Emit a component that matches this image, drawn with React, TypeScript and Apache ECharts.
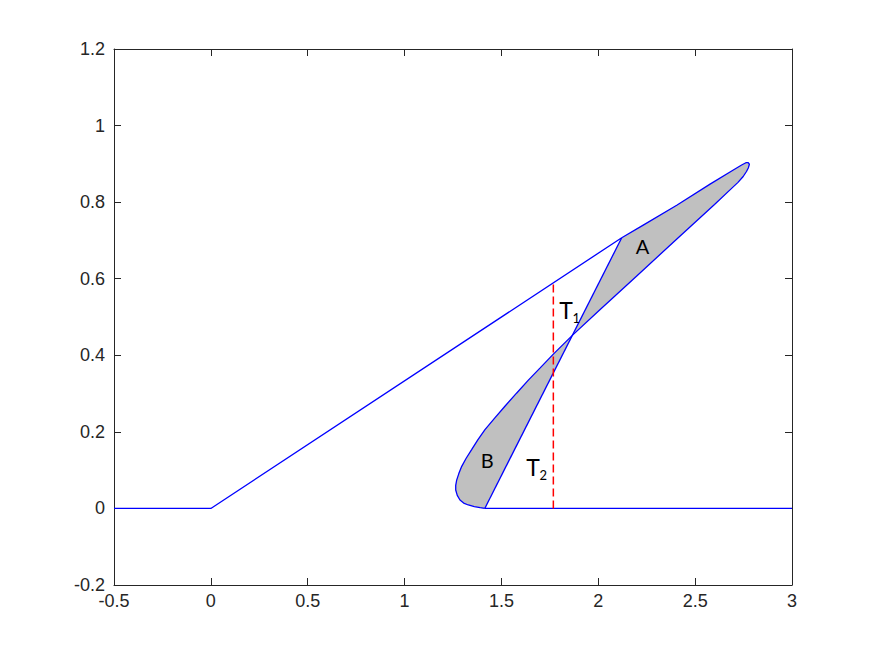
import React, { useEffect, useRef } from "react";
import * as echarts from "echarts";

// Axis ranges
const xRange = { min: -0.5, max: 3, interval: 0.5 };
const yRange = { min: -0.2, max: 1.2, interval: 0.2 };

// Blue lines
const baseLine = [[-0.5, 0], [0, 0], [2.121, 0.707]];
const tailLine = [[1.414, 0], [3, 0]];
const chordLine = [[1.414, 0], [2.121, 0.707]];

// Closed loop pieces
const loopUpper = [
  [2.121, 0.707], [2.232, 0.740], [2.405, 0.792], [2.577, 0.847],
  [2.697, 0.884], [2.740, 0.897], [2.762, 0.903], [2.774, 0.903],
  [2.780, 0.899],
];
const loopLower = [
  [2.775, 0.890], [2.765, 0.880], [2.748, 0.867], [2.720, 0.851],
  [2.680, 0.832], [2.600, 0.794], [2.400, 0.701], [2.200, 0.608],
  [2.000, 0.515], [1.866, 0.452],
];
const loopB = [
  [1.866, 0.452], [1.768, 0.403], [1.700, 0.367], [1.639, 0.335],
  [1.578, 0.301], [1.518, 0.267], [1.465, 0.236], [1.415, 0.206],
  [1.378, 0.179], [1.347, 0.154], [1.318, 0.131], [1.295, 0.110],
  [1.280, 0.091], [1.269, 0.074], [1.264, 0.060], [1.264, 0.048],
  [1.272, 0.034], [1.286, 0.022], [1.305, 0.014], [1.329, 0.009],
  [1.360, 0.005], [1.390, 0.002], [1.414, 0],
];

// Red dashed
const dashLine = [[1.768, 0], [1.768, 0.589]];

// Annotations
const labelPos = [[2.228, 0.685], [1.427, 0.126], [1.833, 0.518], [1.663, 0.107]];
const labelMain = ["A", "B", "T", "T"];
const labelSub = ["", "", "1", "2"];

const loopCurve = [...loopUpper, ...loopLower, ...loopB.slice(1)];
const fillA = [...loopUpper, ...loopLower];
const fillB = loopB;

const AX = "#262626";

function axisCommon(showLabel: boolean, pos: string, margin = 8) {
  return {
    type: "value",
    position: pos,
    axisLine: { show: true, onZero: false, lineStyle: { color: AX, width: 1 } },
    axisTick: { show: true, inside: true, length: 7, lineStyle: { color: AX, width: 1 } },
    axisLabel: {
      show: showLabel,
      color: AX,
      fontSize: 18,
      fontFamily: "Liberation Sans, Arial, sans-serif",
      margin,
    },
    splitLine: { show: false },
  };
}

function polySeries(pts: number[][]) {
  return {
    type: "custom",
    coordinateSystem: "cartesian2d",
    silent: true,
    z: 1,
    data: [[pts[0][0], pts[0][1]]],
    renderItem: (_params: any, api: any) => ({
      type: "polygon",
      shape: { points: pts.map((p) => api.coord(p)) },
      style: { fill: "#c0c0c0", stroke: "none" },
    }),
  };
}

function lineSeries(data: number[][], color: string, dashed = false) {
  return {
    type: "line",
    data,
    showSymbol: false,
    silent: true,
    z: 3,
    lineStyle: { color, width: dashed ? 1.5 : 1.3, type: dashed ? [8, 4] : "solid" },
  };
}

export default function App() {
  const ref = useRef<HTMLDivElement>(null);
  useEffect(() => {
    if (!ref.current) return;
    const chart = echarts.init(ref.current, undefined, { renderer: "svg" });
    chart.setOption({
      animation: false,
      backgroundColor: "#ffffff",
      grid: { left: 114, right: 83, top: 49, bottom: 71, containLabel: false },
      xAxis: [
        { ...axisCommon(true, "bottom", 7), ...xRange },
        { ...axisCommon(false, "top"), ...xRange },
      ],
      yAxis: [
        { ...axisCommon(true, "left", 9), ...yRange },
        { ...axisCommon(false, "right"), ...yRange },
      ],
      series: [
        polySeries(fillA),
        polySeries(fillB),
        lineSeries(baseLine, "#0000ff"),
        lineSeries(tailLine, "#0000ff"),
        lineSeries(chordLine, "#0000ff"),
        lineSeries(loopCurve, "#0000ff"),
        lineSeries(dashLine, "#ff0000", true),
        {
          type: "custom",
          coordinateSystem: "cartesian2d",
          silent: true,
          z: 5,
          data: labelPos,
          renderItem: (params: any, api: any) => {
            const i = params.dataIndex;
            const p = api.coord(labelPos[i]);
            const isT = labelSub[i] !== "";
            const children: any[] = [
              {
                type: "text",
                x: p[0],
                y: p[1],
                style: {
                  text: labelMain[i],
                  fill: "#000",
                  fontFamily: "Lato, Open Sans, sans-serif",
                  fontSize: isT ? 23 : 20,
                  align: "center",
                  verticalAlign: "middle",
                },
              },
            ];
            if (isT) {
              children.push({
                type: "text",
                x: p[0] + 6.5,
                y: p[1] + 8,
                style: {
                  text: labelSub[i],
                  fill: "#000",
                  fontFamily: "Lato, Open Sans, sans-serif",
                  fontSize: 13,
                  align: "left",
                  verticalAlign: "middle",
                },
              });
            }
            return { type: "group", children };
          },
        },
      ],
    });
    return () => chart.dispose();
  }, []);
  return (
    <div
      ref={ref}
      style={{ position: "fixed", left: 0, top: 0, width: 875, height: 656, background: "#fff" }}
    />
  );
}
